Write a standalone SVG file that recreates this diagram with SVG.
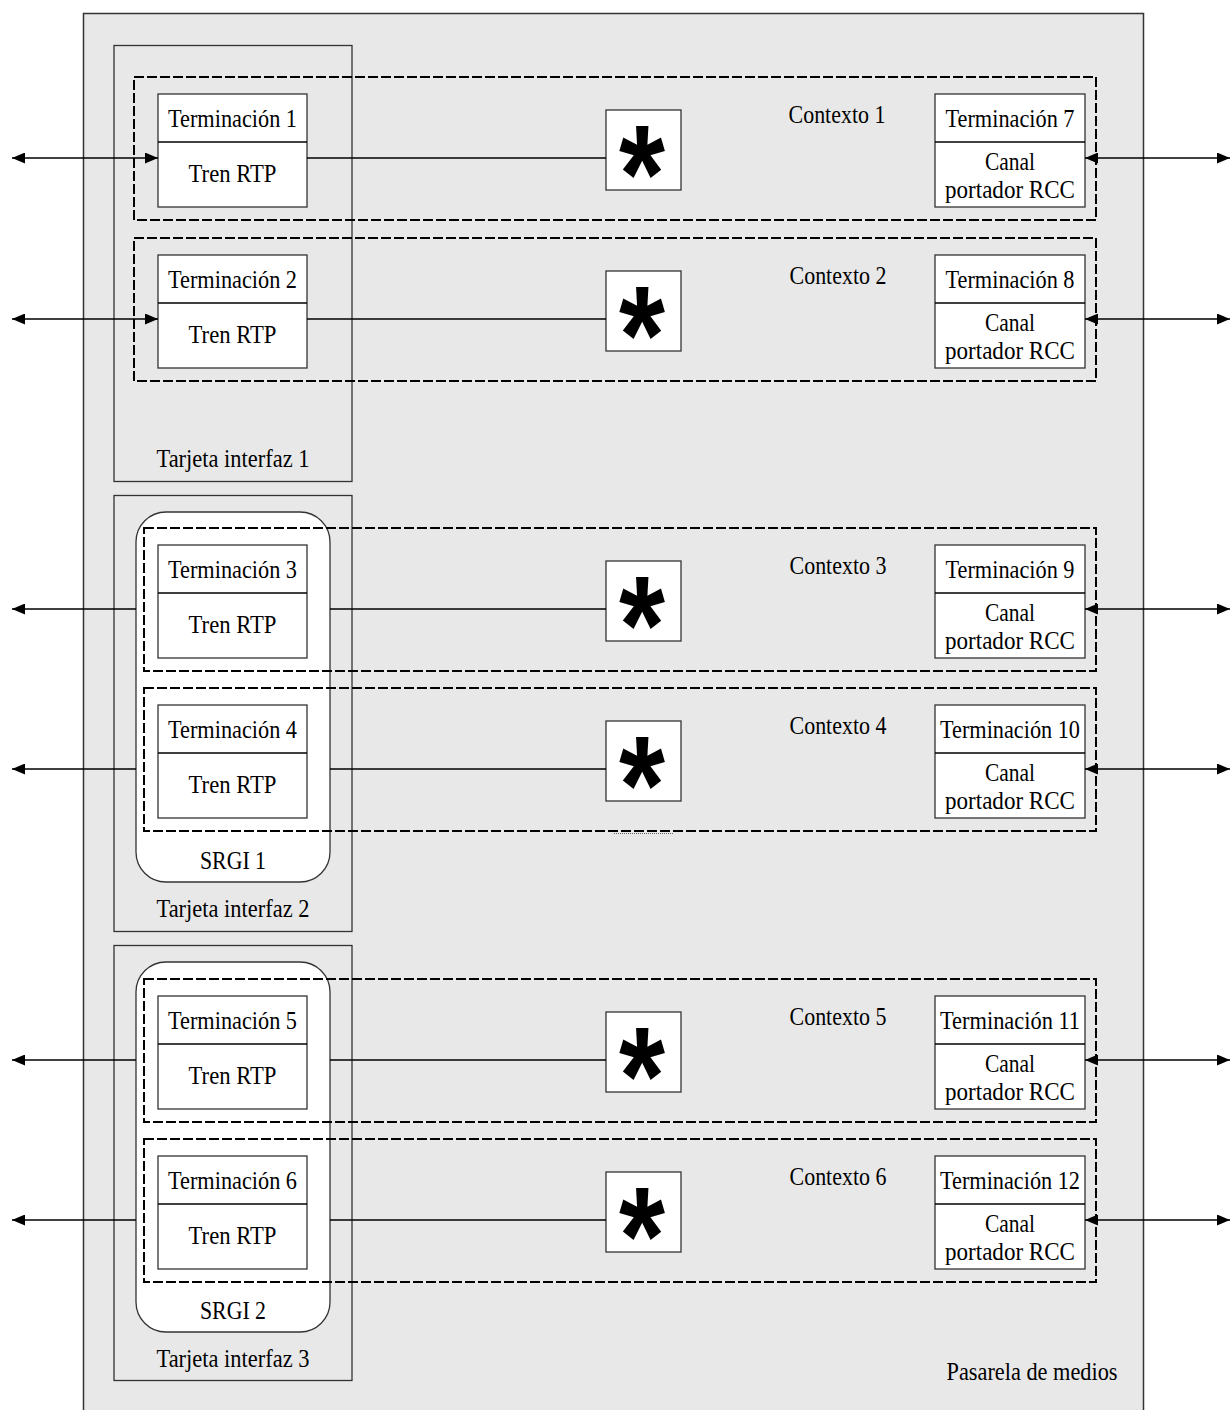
<svg xmlns="http://www.w3.org/2000/svg" width="1231" height="1410" viewBox="0 0 1231 1410">
<style>
.t{font-family:"Liberation Serif","Times New Roman",serif;font-size:25px;fill:#000;text-anchor:middle}
.star{font-family:"Liberation Sans",Arial,sans-serif;font-weight:bold;font-size:140px;fill:#000;text-anchor:middle}
.box{fill:#fff;stroke:#333;stroke-width:1.3}
.card{fill:none;stroke:#333;stroke-width:1.3}
.ctx{fill:none;stroke:#000;stroke-width:2;stroke-dasharray:10 3}
.ln{fill:none;stroke:#000;stroke-width:1.3}
</style>
<defs>
<marker id="ah" viewBox="0 0 13 11" refX="13" refY="5.5" markerWidth="13" markerHeight="11" markerUnits="userSpaceOnUse" orient="auto-start-reverse"><path d="M0,0 L13,5.5 L0,11 z" fill="#000"/></marker>
</defs>
<rect width="1231" height="1410" fill="#fff"/>
<g id="gateway">
<rect x="83.5" y="13.5" width="1060" height="1420" fill="#e8e8e8" stroke="#333" stroke-width="1.5"/>
<text class="t" x="1032" y="1380" textLength="171" lengthAdjust="spacingAndGlyphs">Pasarela de medios</text>
</g>
<g id="card1"><rect class="card" x="114" y="45.5" width="238" height="436"/><text class="t" x="233" y="467" textLength="153" lengthAdjust="spacingAndGlyphs">Tarjeta interfaz 1</text></g>
<g id="card2"><rect class="card" x="114" y="495.5" width="238" height="436"/><text class="t" x="233" y="917" textLength="153" lengthAdjust="spacingAndGlyphs">Tarjeta interfaz 2</text></g>
<g id="card3"><rect class="card" x="114" y="945.5" width="238" height="435"/><text class="t" x="233" y="1367" textLength="153" lengthAdjust="spacingAndGlyphs">Tarjeta interfaz 3</text></g>
<g id="srgi1"><rect x="136" y="512" width="194" height="370" rx="30" ry="30" fill="#fff" stroke="#333" stroke-width="1.3"/><text class="t" x="233" y="869" textLength="66" lengthAdjust="spacingAndGlyphs">SRGI 1</text></g>
<g id="srgi2"><rect x="136" y="962" width="194" height="370" rx="30" ry="30" fill="#fff" stroke="#333" stroke-width="1.3"/><text class="t" x="233" y="1319" textLength="66" lengthAdjust="spacingAndGlyphs">SRGI 2</text></g>

<g id="ctx1"><rect class="ctx" x="134" y="77" width="962" height="143"/><text class="t" x="837" y="123" textLength="97" lengthAdjust="spacingAndGlyphs">Contexto 1</text></g>
<g id="ctx2"><rect class="ctx" x="134" y="238" width="962" height="143"/><text class="t" x="838" y="284" textLength="97" lengthAdjust="spacingAndGlyphs">Contexto 2</text></g>
<g id="ctx3"><rect class="ctx" x="144" y="528" width="952" height="143"/><text class="t" x="838" y="574" textLength="97" lengthAdjust="spacingAndGlyphs">Contexto 3</text></g>
<g id="ctx4"><rect class="ctx" x="144" y="688" width="952" height="143"/><text class="t" x="838" y="734" textLength="97" lengthAdjust="spacingAndGlyphs">Contexto 4</text></g>
<g id="ctx5"><rect class="ctx" x="144" y="979" width="952" height="143"/><text class="t" x="838" y="1025" textLength="97" lengthAdjust="spacingAndGlyphs">Contexto 5</text></g>
<g id="ctx6"><rect class="ctx" x="144" y="1139" width="952" height="143"/><text class="t" x="838" y="1185" textLength="97" lengthAdjust="spacingAndGlyphs">Contexto 6</text></g>
<line x1="614" y1="833.5" x2="674" y2="833.5" stroke="#666" stroke-width="1" stroke-dasharray="1 1"/>

<g id="star1"><rect class="box" x="606" y="110" width="75" height="80"/><text class="star" x="642" y="222" textLength="46" lengthAdjust="spacingAndGlyphs">*</text></g>
<g id="star2"><rect class="box" x="606" y="271" width="75" height="80"/><text class="star" x="642" y="383" textLength="46" lengthAdjust="spacingAndGlyphs">*</text></g>
<g id="star3"><rect class="box" x="606" y="561" width="75" height="80"/><text class="star" x="642" y="673" textLength="46" lengthAdjust="spacingAndGlyphs">*</text></g>
<g id="star4"><rect class="box" x="606" y="721" width="75" height="80"/><text class="star" x="642" y="833" textLength="46" lengthAdjust="spacingAndGlyphs">*</text></g>
<g id="star5"><rect class="box" x="606" y="1012" width="75" height="80"/><text class="star" x="642" y="1124" textLength="46" lengthAdjust="spacingAndGlyphs">*</text></g>
<g id="star6"><rect class="box" x="606" y="1172" width="75" height="80"/><text class="star" x="642" y="1284" textLength="46" lengthAdjust="spacingAndGlyphs">*</text></g>

<g id="term1"><rect class="box" x="158" y="94" width="149" height="113"/><line class="ln" x1="158" y1="142" x2="307" y2="142"/><text class="t" x="232.5" y="127" textLength="129" lengthAdjust="spacingAndGlyphs">Terminación 1</text><text class="t" x="232.5" y="182" textLength="88" lengthAdjust="spacingAndGlyphs">Tren RTP</text></g>
<g id="term2"><rect class="box" x="158" y="255" width="149" height="113"/><line class="ln" x1="158" y1="303" x2="307" y2="303"/><text class="t" x="232.5" y="288" textLength="129" lengthAdjust="spacingAndGlyphs">Terminación 2</text><text class="t" x="232.5" y="343" textLength="88" lengthAdjust="spacingAndGlyphs">Tren RTP</text></g>
<g id="term3"><rect class="box" x="158" y="545" width="149" height="113"/><line class="ln" x1="158" y1="593" x2="307" y2="593"/><text class="t" x="232.5" y="578" textLength="129" lengthAdjust="spacingAndGlyphs">Terminación 3</text><text class="t" x="232.5" y="633" textLength="88" lengthAdjust="spacingAndGlyphs">Tren RTP</text></g>
<g id="term4"><rect class="box" x="158" y="705" width="149" height="113"/><line class="ln" x1="158" y1="753" x2="307" y2="753"/><text class="t" x="232.5" y="738" textLength="129" lengthAdjust="spacingAndGlyphs">Terminación 4</text><text class="t" x="232.5" y="793" textLength="88" lengthAdjust="spacingAndGlyphs">Tren RTP</text></g>
<g id="term5"><rect class="box" x="158" y="996" width="149" height="113"/><line class="ln" x1="158" y1="1044" x2="307" y2="1044"/><text class="t" x="232.5" y="1029" textLength="129" lengthAdjust="spacingAndGlyphs">Terminación 5</text><text class="t" x="232.5" y="1084" textLength="88" lengthAdjust="spacingAndGlyphs">Tren RTP</text></g>
<g id="term6"><rect class="box" x="158" y="1156" width="149" height="113"/><line class="ln" x1="158" y1="1204" x2="307" y2="1204"/><text class="t" x="232.5" y="1189" textLength="129" lengthAdjust="spacingAndGlyphs">Terminación 6</text><text class="t" x="232.5" y="1244" textLength="88" lengthAdjust="spacingAndGlyphs">Tren RTP</text></g>

<g id="term7"><rect class="box" x="935" y="94" width="150" height="113"/><line class="ln" x1="935" y1="142" x2="1085" y2="142"/><text class="t" x="1010" y="127" textLength="129" lengthAdjust="spacingAndGlyphs">Terminación 7</text><text class="t" x="1010" y="170" textLength="50" lengthAdjust="spacingAndGlyphs">Canal</text><text class="t" x="1010" y="198" textLength="130" lengthAdjust="spacingAndGlyphs">portador RCC</text></g>
<g id="term8"><rect class="box" x="935" y="255" width="150" height="113"/><line class="ln" x1="935" y1="303" x2="1085" y2="303"/><text class="t" x="1010" y="288" textLength="129" lengthAdjust="spacingAndGlyphs">Terminación 8</text><text class="t" x="1010" y="331" textLength="50" lengthAdjust="spacingAndGlyphs">Canal</text><text class="t" x="1010" y="359" textLength="130" lengthAdjust="spacingAndGlyphs">portador RCC</text></g>
<g id="term9"><rect class="box" x="935" y="545" width="150" height="113"/><line class="ln" x1="935" y1="593" x2="1085" y2="593"/><text class="t" x="1010" y="578" textLength="129" lengthAdjust="spacingAndGlyphs">Terminación 9</text><text class="t" x="1010" y="621" textLength="50" lengthAdjust="spacingAndGlyphs">Canal</text><text class="t" x="1010" y="649" textLength="130" lengthAdjust="spacingAndGlyphs">portador RCC</text></g>
<g id="term10"><rect class="box" x="935" y="705" width="150" height="113"/><line class="ln" x1="935" y1="753" x2="1085" y2="753"/><text class="t" x="1010" y="738" textLength="140" lengthAdjust="spacingAndGlyphs">Terminación 10</text><text class="t" x="1010" y="781" textLength="50" lengthAdjust="spacingAndGlyphs">Canal</text><text class="t" x="1010" y="809" textLength="130" lengthAdjust="spacingAndGlyphs">portador RCC</text></g>
<g id="term11"><rect class="box" x="935" y="996" width="150" height="113"/><line class="ln" x1="935" y1="1044" x2="1085" y2="1044"/><text class="t" x="1010" y="1029" textLength="140" lengthAdjust="spacingAndGlyphs">Terminación 11</text><text class="t" x="1010" y="1072" textLength="50" lengthAdjust="spacingAndGlyphs">Canal</text><text class="t" x="1010" y="1100" textLength="130" lengthAdjust="spacingAndGlyphs">portador RCC</text></g>
<g id="term12"><rect class="box" x="935" y="1156" width="150" height="113"/><line class="ln" x1="935" y1="1204" x2="1085" y2="1204"/><text class="t" x="1010" y="1189" textLength="140" lengthAdjust="spacingAndGlyphs">Terminación 12</text><text class="t" x="1010" y="1232" textLength="50" lengthAdjust="spacingAndGlyphs">Canal</text><text class="t" x="1010" y="1260" textLength="130" lengthAdjust="spacingAndGlyphs">portador RCC</text></g>

<g id="connectors">
<line class="ln" x1="12" y1="158" x2="158" y2="158" marker-start="url(#ah)" marker-end="url(#ah)"/>
<line class="ln" x1="12" y1="319" x2="158" y2="319" marker-start="url(#ah)" marker-end="url(#ah)"/>
<line class="ln" x1="136" y1="609" x2="12" y2="609" marker-end="url(#ah)"/>
<line class="ln" x1="136" y1="769" x2="12" y2="769" marker-end="url(#ah)"/>
<line class="ln" x1="136" y1="1060" x2="12" y2="1060" marker-end="url(#ah)"/>
<line class="ln" x1="136" y1="1220" x2="12" y2="1220" marker-end="url(#ah)"/>
<line class="ln" x1="307" y1="158" x2="606" y2="158"/>
<line class="ln" x1="307" y1="319" x2="606" y2="319"/>
<line class="ln" x1="330" y1="609" x2="606" y2="609"/>
<line class="ln" x1="330" y1="769" x2="606" y2="769"/>
<line class="ln" x1="330" y1="1060" x2="606" y2="1060"/>
<line class="ln" x1="330" y1="1220" x2="606" y2="1220"/>
<line class="ln" x1="1085" y1="158" x2="1230" y2="158" marker-start="url(#ah)" marker-end="url(#ah)"/>
<line class="ln" x1="1085" y1="319" x2="1230" y2="319" marker-start="url(#ah)" marker-end="url(#ah)"/>
<line class="ln" x1="1085" y1="609" x2="1230" y2="609" marker-start="url(#ah)" marker-end="url(#ah)"/>
<line class="ln" x1="1085" y1="769" x2="1230" y2="769" marker-start="url(#ah)" marker-end="url(#ah)"/>
<line class="ln" x1="1085" y1="1060" x2="1230" y2="1060" marker-start="url(#ah)" marker-end="url(#ah)"/>
<line class="ln" x1="1085" y1="1220" x2="1230" y2="1220" marker-start="url(#ah)" marker-end="url(#ah)"/>
</g>
</svg>
